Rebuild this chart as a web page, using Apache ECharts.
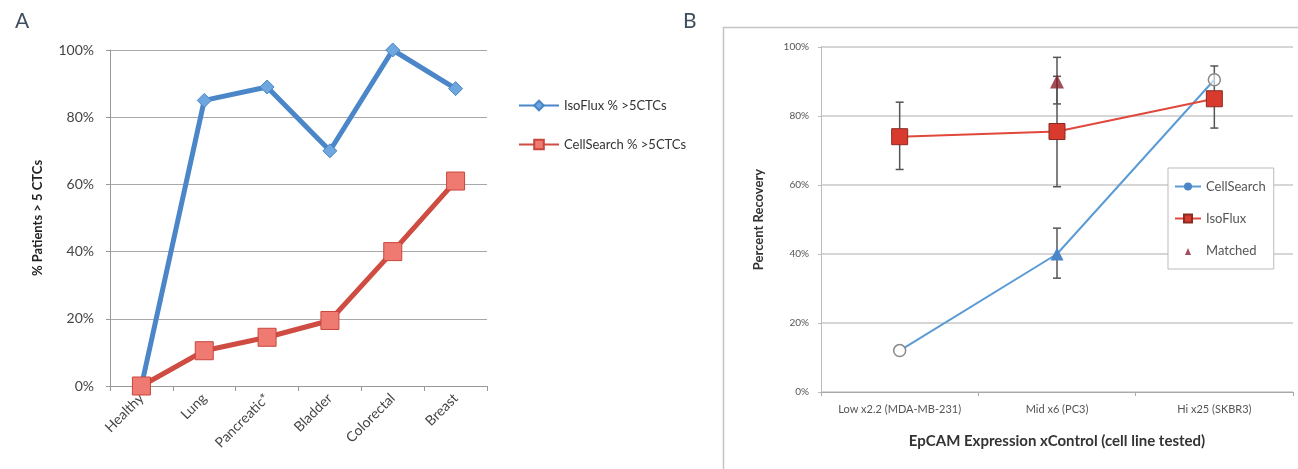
<!DOCTYPE html>
<html>
<head>
<meta charset="utf-8">
<script src="https://cdn.jsdelivr.net/npm/echarts@6/dist/echarts.min.js"></script>
<style>
  html, body { margin: 0; padding: 0; background: #fff; }
  #main { width: 1298px; height: 469px; }
</style>
</head>
<body>
<div id="main"></div>
<script>
// panel A
var cancers = ['Healthy', 'Lung', 'Pancreatic*', 'Bladder', 'Colorectal', 'Breast'];
var isoFluxA = [0, 85, 89, 70, 100, 88.5];
var cellSearchA = [0, 10.5, 14.5, 19.5, 40, 61];

// panel B
var cellLines = ['Low x2.2 (MDA-MB-231)', 'Mid x6 (PC3)', 'Hi x25 (SKBR3)'];
var cellSearchB = [12, 40, 90.5];
var isoFluxB = [74, 75.5, 85];
var matchedB = [[1, 90]];
// [category index, low, high]
var cellSearchErr = [[1, 33, 47.5]];
var isoFluxErr = [[0, 64.5, 84], [1, 59.5, 91.5], [2, 76.5, 94.5]];
var matchedErr = [[1, 83.5, 97]];

var pct = function (v) { return v + '%'; };
var FONT = 'Lato';

function renderErr(params, api) {
  var x = api.value(0);
  var lo = api.coord([x, api.value(1)]);
  var hi = api.coord([x, api.value(2)]);
  var w = 4;
  var st = { stroke: '#555', lineWidth: 1.5 };
  return {
    type: 'group',
    children: [
      { type: 'line', shape: { x1: lo[0], y1: lo[1], x2: hi[0], y2: hi[1] }, style: st },
      { type: 'line', shape: { x1: lo[0] - w, y1: lo[1], x2: lo[0] + w, y2: lo[1] }, style: st },
      { type: 'line', shape: { x1: hi[0] - w, y1: hi[1], x2: hi[0] + w, y2: hi[1] }, style: st }
    ]
  };
}

var chart = echarts.init(document.getElementById('main'));
var option = {
  animation: false,
  textStyle: { fontFamily: FONT },
  title: [
    { text: 'A', left: 10, top: 6, textStyle: { fontSize: 21, fontWeight: 'normal', color: '#3d4f5f', fontFamily: FONT } },
    { text: 'B', left: 678, top: 6, textStyle: { fontSize: 21, fontWeight: 'normal', color: '#3d4f5f', fontFamily: FONT } }
  ],
  graphic: [{
    type: 'rect',
    shape: { x: 723.5, y: 27.5, width: 620, height: 480 },
    style: { fill: 'none', stroke: '#c4c4c4', lineWidth: 1.5 },
    z: 0
  }],
  legend: [{
    orient: 'vertical',
    left: 513, top: 94,
    itemWidth: 40, itemHeight: 12, itemGap: 26,
    textStyle: { fontSize: 13, color: '#333', fontFamily: FONT },
    data: ['IsoFlux % >5CTCs', 'CellSearch % >5CTCs']
  }, {
    orient: 'vertical',
    left: 1168, top: 168,
    itemWidth: 26, itemHeight: 10, itemGap: 19,
    padding: [12, 8, 12, 6],
    borderColor: '#bbb', borderWidth: 1, backgroundColor: '#fff',
    textStyle: { fontSize: 13, color: '#555', fontFamily: FONT },
    data: ['CellSearch', 'IsoFlux', {
      name: 'Matched',
      icon: 'path://M0,0M26,10M10,9.5L13,2.5L16,9.5Z'
    }]
  }],
  grid: [
    { left: 110, right: 811, top: 50, bottom: 83 },
    { left: 821, right: 5, top: 47, bottom: 77 }
  ],
  xAxis: [{
    gridIndex: 0, type: 'category', data: cancers,
    axisLine: { lineStyle: { color: '#999' } },
    axisTick: { show: true, length: 5, lineStyle: { color: '#999' } },
    axisLabel: { rotate: 45, interval: 0, fontSize: 14, color: '#444', margin: 10 }
  }, {
    gridIndex: 1, type: 'category', data: cellLines,
    axisLine: { lineStyle: { color: '#aaa' } },
    axisTick: { show: true, length: 4, lineStyle: { color: '#aaa' } },
    axisLabel: { interval: 0, fontSize: 11, color: '#555', margin: 12 },
    name: 'EpCAM Expression xControl (cell line tested)',
    nameLocation: 'middle', nameGap: 42,
    nameTextStyle: { fontSize: 15, fontWeight: 'bold', color: '#333' }
  }],
  yAxis: [{
    gridIndex: 0, type: 'value', min: 0, max: 100, interval: 20,
    axisLine: { show: true, lineStyle: { color: '#999' } },
    axisTick: { show: true, length: 4, lineStyle: { color: '#999' } },
    axisLabel: { formatter: pct, fontSize: 14, color: '#444', margin: 16 },
    splitLine: { lineStyle: { color: '#a8a8a8' } },
    name: '% Patients > 5 CTCs', nameLocation: 'middle', nameGap: 66,
    nameTextStyle: { fontSize: 13, fontWeight: 'bold', color: '#222' }
  }, {
    gridIndex: 1, type: 'value', min: 0, max: 100, interval: 20,
    axisLine: { show: true, lineStyle: { color: '#bbb' } },
    axisTick: { show: true, length: 3, lineStyle: { color: '#bbb' } },
    axisLabel: { formatter: pct, fontSize: 10, color: '#555', margin: 12 },
    splitLine: { lineStyle: { color: '#c8c8c8', width: 1.5 } },
    name: 'Percent Recovery', nameLocation: 'middle', nameGap: 56,
    nameTextStyle: { fontSize: 13, fontWeight: 'bold', color: '#333' }
  }],
  series: [{
    name: 'IsoFlux % >5CTCs', type: 'line', xAxisIndex: 0, yAxisIndex: 0,
    data: isoFluxA, symbol: 'diamond', symbolSize: 14,
    lineStyle: { color: '#4a86c8', width: 5 },
    itemStyle: { color: '#6ea6de', borderColor: '#4a86c8', borderWidth: 1 },
    z: 3
  }, {
    name: 'CellSearch % >5CTCs', type: 'line', xAxisIndex: 0, yAxisIndex: 0,
    data: cellSearchA, symbol: 'rect', symbolSize: 18,
    lineStyle: { color: '#cf4c42', width: 5 },
    itemStyle: { color: '#ef7a72', borderColor: '#c9463d', borderWidth: 1 },
    z: 3
  }, {
    name: 'CellSearch', type: 'line', xAxisIndex: 1, yAxisIndex: 1,
    symbol: 'circle', symbolSize: 12,
    data: [
      { value: cellSearchB[0], itemStyle: { color: '#fff', borderColor: '#888', borderWidth: 1.5 } },
      { value: cellSearchB[1], symbol: 'triangle', symbolSize: 13 },
      { value: cellSearchB[2], itemStyle: { color: 'rgba(255,255,255,0.6)', borderColor: '#888', borderWidth: 1.5 } }
    ],
    lineStyle: { color: '#5b9bd5', width: 2 },
    itemStyle: { color: '#4a86c8' },
    z: 3
  }, {
    name: 'IsoFlux', type: 'line', xAxisIndex: 1, yAxisIndex: 1,
    data: isoFluxB, symbol: 'rect', symbolSize: 16,
    lineStyle: { color: '#e0483c', width: 2 },
    itemStyle: { color: '#d83a2e', borderColor: '#8a2a20', borderWidth: 1 },
    z: 4
  }, {
    name: 'Matched', type: 'scatter', xAxisIndex: 1, yAxisIndex: 1,
    data: matchedB, symbol: 'triangle', symbolSize: 14,
    itemStyle: { color: '#8b2230' },
    z: 5
  }, {
    type: 'custom', xAxisIndex: 1, yAxisIndex: 1,
    renderItem: renderErr, data: cellSearchErr.concat(isoFluxErr, matchedErr),
    encode: { x: 0, y: [1, 2] }, silent: true, z: 2
  }]
};
chart.setOption(option);
</script>
</body>
</html>
